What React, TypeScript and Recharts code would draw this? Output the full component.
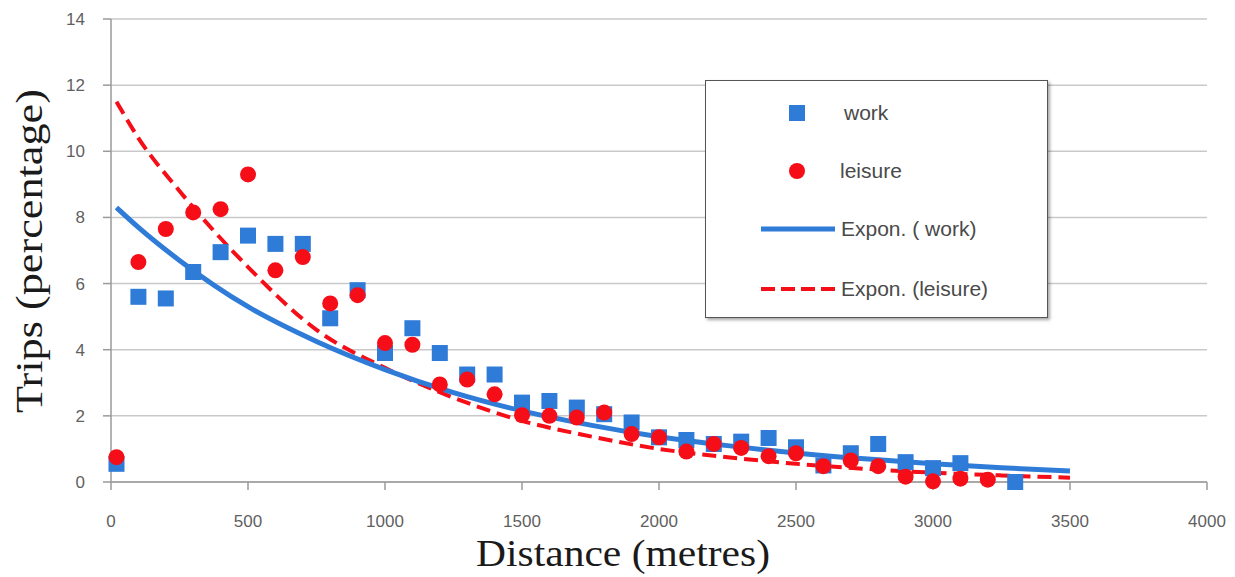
import { ComposedChart, Scatter, Line, XAxis, YAxis, CartesianGrid, Label } from "recharts";

const workDistances = [20, 100, 200, 300, 400, 500, 600, 700, 800, 900, 1000, 1100, 1200, 1300, 1400, 1500, 1600, 1700, 1800, 1900, 2000, 2100, 2200, 2300, 2400, 2500, 2600, 2700, 2800, 2900, 3000, 3100, 3300];
const workShare = [0.55, 5.6, 5.55, 6.35, 6.95, 7.45, 7.2, 7.2, 4.95, 5.8, 3.9, 4.65, 3.9, 3.25, 3.25, 2.4, 2.45, 2.25, 2.05, 1.8, 1.35, 1.27, 1.15, 1.22, 1.33, 1.05, 0.5, 0.87, 1.15, 0.6, 0.42, 0.57, 0.0];

const leisureDistances = [20, 100, 200, 300, 400, 500, 600, 700, 800, 900, 1000, 1100, 1200, 1300, 1400, 1500, 1600, 1700, 1800, 1900, 2000, 2100, 2200, 2300, 2400, 2500, 2600, 2700, 2800, 2900, 3000, 3100, 3200];
const leisureShare = [0.75, 6.65, 7.65, 8.15, 8.25, 9.3, 6.4, 6.8, 5.4, 5.65, 4.2, 4.15, 2.95, 3.1, 2.65, 2.02, 2.0, 1.95, 2.1, 1.45, 1.35, 0.92, 1.15, 1.03, 0.78, 0.87, 0.48, 0.65, 0.48, 0.16, 0.02, 0.1, 0.07];

// exponential trend lines
const trendDistances = [20, 100, 250, 500, 750, 1000, 1250, 1500, 1750, 2000, 2250, 2500, 2750, 3000, 3250, 3500];
const workTrend = [8.3, 7.7, 6.7, 5.3, 4.25, 3.4, 2.7, 2.15, 1.72, 1.37, 1.1, 0.88, 0.7, 0.55, 0.43, 0.33];
const leisureTrend = [11.5, 10.4, 8.8, 6.5, 4.6, 3.45, 2.55, 1.85, 1.38, 1.0, 0.75, 0.55, 0.4, 0.28, 0.2, 0.13];

const xTicks = [0, 500, 1000, 1500, 2000, 2500, 3000, 3500, 4000];
const yTicks = [0, 2, 4, 6, 8, 10, 12, 14];

const BLUE = "#2f7bd8";
const RED = "#f50d17";

const workPoints = workDistances.map((x, i) => ({ x, y: workShare[i] }));
const leisurePoints = leisureDistances.map((x, i) => ({ x, y: leisureShare[i] }));
const workTrendPts = trendDistances.map((x, i) => ({ x, y: workTrend[i] }));
const leisureTrendPts = trendDistances.map((x, i) => ({ x, y: leisureTrend[i] }));

const Square = (props: any) => {
  const { cx, cy } = props;
  return <rect x={cx - 8} y={cy - 8} width={16} height={16} fill={BLUE} />;
};

const Dot = (props: any) => {
  const { cx, cy } = props;
  return <circle cx={cx} cy={cy} r={8} fill={RED} />;
};

const tickStyle = { fontFamily: "Liberation Sans, Arial, sans-serif", fontSize: 17, fill: "#5f5f5f" };
const titleFont = "Liberation Serif, Times New Roman, serif";

function LegendBox() {
  const row = { position: "absolute" as const, left: 0, display: "flex", alignItems: "center" };
  const txt = { fontFamily: "Liberation Sans, Arial, sans-serif", fontSize: 21, color: "#4a4a4a" };
  return (
    <div
      style={{
        position: "absolute",
        left: 705,
        top: 80,
        width: 341,
        height: 236,
        background: "#fff",
        border: "1.5px solid #555",
        boxShadow: "2px 2px 3px rgba(0,0,0,0.35)",
      }}
    >
      <div style={{ ...row, top: 20 }}>
        <svg width={138} height={24}>
          <rect x={83} y={4} width={16} height={16} fill={BLUE} />
        </svg>
        <span style={txt}>work</span>
      </div>
      <div style={{ ...row, top: 78 }}>
        <svg width={134} height={24}>
          <circle cx={91} cy={12} r={8} fill={RED} />
        </svg>
        <span style={txt}>leisure</span>
      </div>
      <div style={{ ...row, top: 136 }}>
        <svg width={135} height={24}>
          <line x1={55} x2={129} y1={12} y2={12} stroke={BLUE} strokeWidth={5} />
        </svg>
        <span style={txt}>Expon. ( work)</span>
      </div>
      <div style={{ ...row, top: 196 }}>
        <svg width={135} height={24}>
          <line x1={55} x2={129} y1={12} y2={12} stroke={RED} strokeWidth={4} strokeDasharray="14 6" />
        </svg>
        <span style={txt}>Expon. (leisure)</span>
      </div>
    </div>
  );
}

export default function App() {
  return (
    <div style={{ position: "absolute", left: 0, top: 0, width: 1235, height: 577, background: "#fff" }}>
      <ComposedChart width={1235} height={577} margin={{ top: 19, right: 28, left: 0, bottom: 0 }}>
        <CartesianGrid horizontal vertical={false} stroke="#c9c9c9" strokeWidth={1.5} />
        <XAxis
          dataKey="x"
          type="number"
          domain={[0, 4000]}
          ticks={xTicks}
          height={95}
          stroke="#9a9a9a"
          strokeWidth={1.5}
          tickSize={8}
          tickMargin={25}
          tick={tickStyle}
        >
          <Label
            content={() => (
              <text
                x={623}
                y={566}
                textAnchor="middle"
                fontFamily={titleFont}
                fontSize={37}
                textLength={294}
                lengthAdjust="spacingAndGlyphs"
                fill="#1a1a1a"
              >
                Distance (metres)
              </text>
            )}
          />
        </XAxis>
        <YAxis
          type="number"
          domain={[0, 14]}
          ticks={yTicks}
          width={111}
          stroke="#9a9a9a"
          strokeWidth={1.5}
          tickSize={8}
          tickMargin={18}
          tick={tickStyle}
        >
          <Label
            content={() => (
              <text
                x={42}
                y={251}
                textAnchor="middle"
                transform="rotate(-90 42 251)"
                fontFamily={titleFont}
                fontSize={38}
                textLength={324}
                lengthAdjust="spacingAndGlyphs"
                fill="#1a1a1a"
              >
                Trips (percentage)
              </text>
            )}
          />
        </YAxis>
        <Line
          data={leisureTrendPts}
          dataKey="y"
          type="monotone"
          stroke={RED}
          strokeWidth={4}
          strokeDasharray="14 7"
          dot={false}
          activeDot={false}
          isAnimationActive={false}
        />
        <Line
          data={workTrendPts}
          dataKey="y"
          type="monotone"
          stroke={BLUE}
          strokeWidth={5}
          dot={false}
          activeDot={false}
          isAnimationActive={false}
        />
        <Scatter data={workPoints} dataKey="y" shape={Square} isAnimationActive={false} />
        <Scatter data={leisurePoints} dataKey="y" shape={Dot} isAnimationActive={false} />
      </ComposedChart>
      <LegendBox />
    </div>
  );
}
